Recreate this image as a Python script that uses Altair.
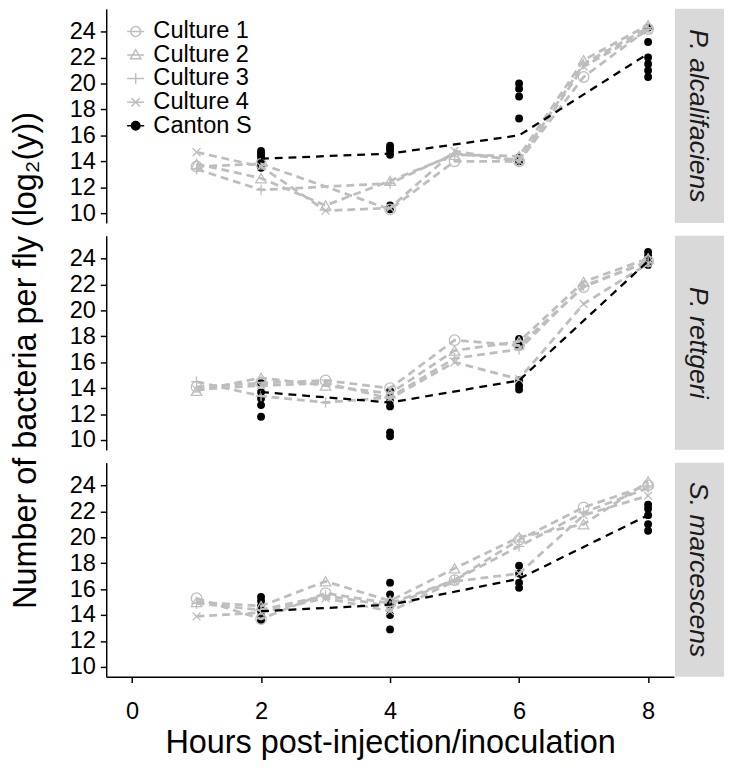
import altair as alt
import pandas as pd

FONT = "Liberation Sans"
GRAY = "#BEBEBE"

species = ["P. alcalifaciens", "P. rettgeri", "S. marcescens"]
cultures = ["Culture 1", "Culture 2", "Culture 3", "Culture 4"]
legend_names = cultures + ["Canton S"]
y_title = "Number of bacteria per fly (log\u2082(y))"
x_title = "Hours post-injection/inoculation"

culture_hours = [1, 2, 3, 4, 5, 6, 7, 8]
# culture values (log2), None = not measured
pa_c1 = [13.6, 13.8, None, 10.3, 14.0, 14.0, 20.5, 24.2]
pa_c2 = [13.8, 12.7, 10.6, 12.5, 14.5, 14.4, 21.8, 24.5]
pa_c3 = [13.4, 11.8, None, 12.3, 14.6, 14.1, 21.5, 24.3]
pa_c4 = [14.7, 13.6, 10.2, 10.4, 14.8, 14.0, 21.3, 24.1]

pr_c1 = [14.1, 14.4, 14.6, 14.0, 17.7, 17.3, 21.8, 23.8]
pr_c2 = [13.8, 14.8, 14.2, 13.6, 16.9, 17.6, 22.2, 24.0]
pr_c3 = [14.5, 13.4, 12.9, 13.3, 16.3, 17.0, 21.9, 23.7]
pr_c4 = [13.9, 14.2, 14.4, 13.2, 16.0, 14.7, 20.5, 23.6]

sm_c1 = [15.3, 13.7, 15.7, 14.9, 16.7, 19.8, 22.3, 24.0]
sm_c2 = [15.0, 14.7, 16.6, 15.1, 17.6, 20.0, 21.0, 24.3]
sm_c3 = [14.9, 14.4, 15.5, 14.7, 16.7, 19.3, 21.9, 23.8]
sm_c4 = [13.9, 14.2, 15.3, 14.3, 16.6, 17.2, 21.7, 23.2]

canton_hours = [2, 4, 6, 8]
pa_cs_line = [14.2, 14.6, 16.0, 22.3]
pr_cs_line = [13.7, 12.9, 14.6, 23.8]
sm_cs_line = [14.3, 14.8, 16.8, 21.7]

pa_cs_pts = [[14.8, 14.6, 14.4, 14.1, 13.8, 13.5],
             [15.2, 15.0, 14.8, 14.5, 10.6, 10.3],
             [20.0, 19.6, 19.0, 17.3, 14.3, 14.0],
             [24.3, 23.2, 22.0, 21.5, 21.0, 20.5]]
pr_cs_pts = [[14.4, 13.7, 13.2, 12.7, 11.8],
             [13.8, 13.4, 13.0, 12.6, 10.6, 10.3],
             [17.8, 17.5, 17.2, 14.6, 14.2, 13.9],
             [24.5, 24.2, 24.0, 23.8, 23.5]]
sm_cs_pts = [[15.4, 15.1, 14.7, 14.3, 13.9, 13.6],
             [16.5, 15.6, 15.0, 14.7, 14.0, 12.9],
             [17.8, 17.2, 16.5, 16.1],
             [22.5, 22.2, 21.7, 21.0, 20.5]]

y_ticks = [10, 12, 14, 16, 18, 20, 22, 24]
x_ticks = [0, 2, 4, 6, 8]

panel_data = {
    "P. alcalifaciens": ([pa_c1, pa_c2, pa_c3, pa_c4], pa_cs_line, pa_cs_pts),
    "P. rettgeri": ([pr_c1, pr_c2, pr_c3, pr_c4], pr_cs_line, pr_cs_pts),
    "S. marcescens": ([sm_c1, sm_c2, sm_c3, sm_c4], sm_cs_line, sm_cs_pts),
}

# marker shapes (ggplot 1,2,3,4)
marker_shapes = [
    "circle",
    "triangle-up",
    "M-1,0H1M0,-1V1",
    "M-0.75,-0.75L0.75,0.75M-0.75,0.75L0.75,-0.75",
]
# legend keys: line + marker
legend_shapes = [
    "M-1,0H1M0.58,0A0.58,0.58,0,1,1,-0.58,0A0.58,0.58,0,1,1,0.58,0",
    "M-1,0H1M0,-0.62L0.62,0.45L-0.62,0.45Z",
    "M-1,0H1M0,-0.62V0.62",
    "M-1,0H1M-0.5,-0.5L0.5,0.5M-0.5,0.5L0.5,-0.5",
    "M-1,0H1M0.5,0A0.5,0.5,0,1,1,-0.5,0A0.5,0.5,0,1,1,0.5,0",
]

W, H = 578, 218
xscale = alt.Scale(domain=[-0.4, 8.4], nice=False, zero=False)
yscale = alt.Scale(domain=[9.25, 25.75], nice=False, zero=False)


def panel(idx, name):
    cvals, cs_line, cs_pts = panel_data[name]
    rows = []
    for c, vals in zip(cultures, cvals):
        for h, v in zip(culture_hours, vals):
            if v is not None:
                rows.append({"hour": h, "value": v, "series": c})
    cdf = pd.DataFrame(rows)
    ldf = pd.DataFrame({"hour": canton_hours, "value": cs_line})
    prow = []
    for h, vals in zip(canton_hours, cs_pts):
        for v in vals:
            prow.append({"hour": h, "value": v})
    pdf = pd.DataFrame(prow)

    is_bottom = idx == 2
    xaxis = alt.Axis(values=x_ticks, title=x_title,
                     labelPadding=18, titlePadding=3) if is_bottom else None
    yaxis = alt.Axis(values=y_ticks, title=None, labelPadding=5)
    X = alt.X("hour:Q", scale=xscale, axis=xaxis)
    Y = alt.Y("value:Q", scale=yscale, axis=yaxis)

    pts = alt.Chart(pdf).mark_circle(size=64, color="black", opacity=1).encode(x=X, y=Y)
    clines = alt.Chart(cdf).mark_line(color=GRAY, strokeWidth=2.8, strokeDash=[8, 5]).encode(
        x=X, y=Y, detail="series:N")
    layers = [pts, clines]
    for c, shp in zip(cultures, marker_shapes):
        sub = cdf[cdf["series"] == c]
        layers.append(alt.Chart(sub).mark_point(shape=shp, filled=False, color=GRAY,
                                                 size=115, strokeWidth=1.3, opacity=1).encode(x=X, y=Y))
    cline = alt.Chart(ldf).mark_line(color="black", strokeWidth=2.3, strokeDash=[8, 6]).encode(x=X, y=Y)
    layers.append(cline)

    sdf = pd.DataFrame({"label": [name]})
    strip = alt.Chart(sdf).mark_rect(color="#D9D9D9").encode(
        x=alt.value(W + 1), x2=alt.value(W + 51), y=alt.value(0), y2=alt.value(H))
    stext = alt.Chart(sdf).mark_text(angle=90, font=FONT, fontSize=27, fontStyle="italic",
                                     color="#1A1A1A", align="center", baseline="middle").encode(
        x=alt.value(W + 24), y=alt.value(H / 2), text="label:N")
    layers += [strip, stext]

    if idx == 1:
        tdf = pd.DataFrame({"t": [y_title]})
        layers.append(alt.Chart(tdf).mark_text(angle=270, font=FONT, fontSize=33, color="black",
                                               align="center", baseline="middle").encode(
            x=alt.value(-81), y=alt.value(H / 2 + 18), text="t:N"))

    if idx == 0:
        legdf = pd.DataFrame({"key": legend_names})
        leg = alt.Legend(title=None, orient="none", legendX=18, legendY=11,
                         labelFont=FONT, labelFontSize=24, labelColor="black",
                         symbolSize=300, symbolStrokeWidth=1.5, rowPadding=0,
                         labelOffset=6, padding=0)
        legend_layer = alt.Chart(legdf).transform_filter("false").mark_point(opacity=1).encode(
            stroke=alt.Stroke("key:N", scale=alt.Scale(domain=legend_names,
                              range=[GRAY] * 4 + ["black"]), legend=leg),
            fill=alt.Fill("key:N", scale=alt.Scale(domain=legend_names,
                          range=["transparent"] * 4 + ["black"]), legend=leg),
            shape=alt.Shape("key:N", scale=alt.Scale(domain=legend_names,
                            range=legend_shapes), legend=leg),
        )
        layers.append(legend_layer)

    return alt.layer(*layers).properties(width=W, height=H)


chart = alt.vconcat(*[panel(i, n) for i, n in enumerate(species)], spacing=13,
                    bounds="flush").resolve_scale(
    stroke="independent", fill="independent", shape="independent"
).resolve_legend(
    stroke="independent", fill="independent", shape="independent"
).properties(
    padding={"left": 2, "top": -6, "right": 0, "bottom": 0}
).configure_view(stroke=None).configure_axis(
    grid=False, domainColor="black", domainWidth=1.5, tickColor="black",
    tickWidth=1.5, tickSize=6, labelFont=FONT, labelFontSize=24, labelColor="black",
    titleFont=FONT, titleFontSize=33, titleFontWeight="normal", titleColor="black",
)

chart.save("out.html", embed_options={"renderer": "svg", "actions": False})
